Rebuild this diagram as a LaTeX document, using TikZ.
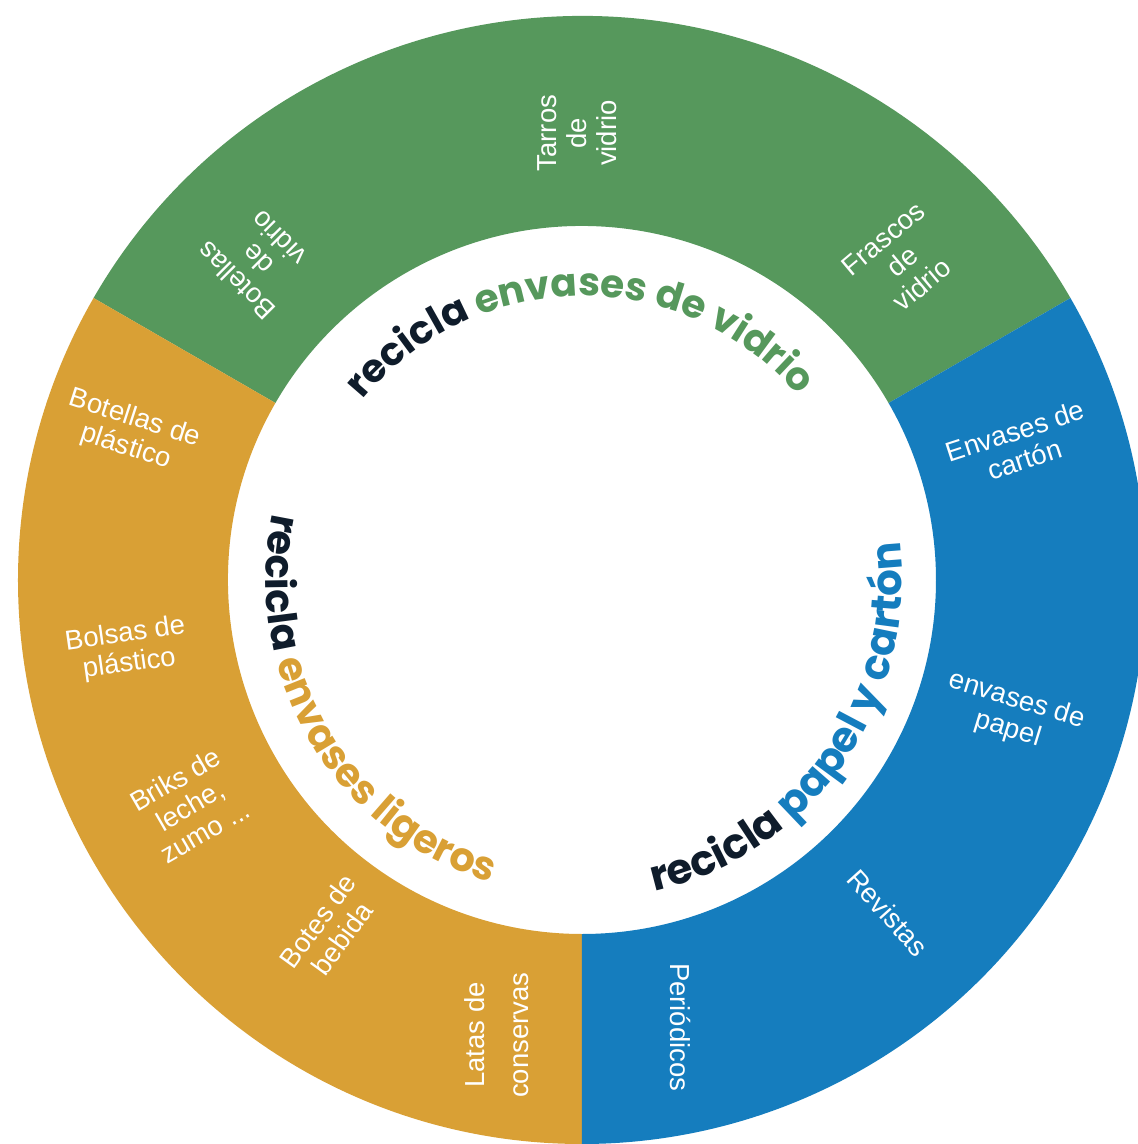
\documentclass[tikz,border=0pt]{standalone}
\usepackage{fontspec}
\setmainfont{Liberation Sans}
\newfontfamily\headfont{Poppins}
\usetikzlibrary{decorations.text}
\definecolor{vgreen}{HTML}{56985C}
\definecolor{lorange}{HTML}{D9A035}
\definecolor{pblue}{HTML}{157DBE}
\definecolor{navy}{HTML}{0F1C2B}
\begin{document}
\begin{tikzpicture}[x=1pt,y=1pt,
  lbl/.style={text=white,font=\fontsize{27.5}{30}\selectfont,align=center,inner sep=0pt},
  headtext/.style={decorate,decoration={text along path,text align=center,text={#1}}}]
\useasboundingbox (-582,-564) rectangle (556,580);
\fill[white] (-582,-564) rectangle (556,580);
\def\ri{354}\def\ro{564}
% sectors
\fill[vgreen] (30:\ri) arc[start angle=30,end angle=150,radius=\ri] -- (150:\ro) arc[start angle=150,end angle=30,radius=\ro] -- cycle;
\fill[lorange] (150:\ri) arc[start angle=150,end angle=270,radius=\ri] -- (270:\ro) arc[start angle=270,end angle=150,radius=\ro] -- cycle;
\fill[pblue] (-90:\ri) arc[start angle=-90,end angle=30,radius=\ri] -- (30:\ro) arc[start angle=30,end angle=-90,radius=\ro] -- cycle;
% headings
\path[headtext={|\headfont\bfseries\fontsize{39}{39}\selectfont\color{navy}|recicla |+\color{vgreen}|envases de vidrio}]
  (150.5:284) arc[start angle=150.5,end angle=30.5,radius=284];
\path[headtext={|\headfont\bfseries\fontsize{42}{42}\selectfont\color{navy}|recicla |+\color{pblue}|papel y cartón}]
  (-95:320) arc[start angle=-95,end angle=25,radius=320];
\path[headtext={|\headfont\bfseries\fontsize{40}{40}\selectfont\color{navy}|recicla |+\color{lorange}|envases ligeros}]
  (150.5:316) arc[start angle=150.5,end angle=270.5,radius=316];
% green labels
\node[lbl,rotate=135] (bv) at (135.4:456) {Botellas\\de\\vidrio};
\node[lbl,rotate=90] (tv) at (90.6:447) {Tarros\\de\\vidrio};
\node[lbl,rotate=40] (fv) at (44.8:452) {Frascos\\de\\vidrio};
% orange labels
\node[lbl,rotate=-18] (bp) at (162:475) {Botellas de\\plástico};
\node[lbl,rotate=8] (bo) at (188.7:460) {Bolsas de\\plástico};
\node[lbl,rotate=30] (br) at (209.9:452) {Briks de\\leche,\\zumo ...};
\node[lbl,rotate=54] (bb) at (234.2:431) {Botes de\\bebida};
\node[lbl,rotate=90] (lc) at (259.4:463) {Latas de\\[14pt]conservas};
% blue labels
\node[lbl,rotate=-90] (pe) at (-77.6:458) {Periódicos};
\node[lbl,rotate=-48] (re) at (-47.4:452) {Revistas};
\node[lbl,rotate=-17] (ep) at (-17.4:451) {envases de\\papel};
\node[lbl,rotate=18] (ec) at (17.1:458) {Envases de\\cartón};
\end{tikzpicture}
\end{document}
